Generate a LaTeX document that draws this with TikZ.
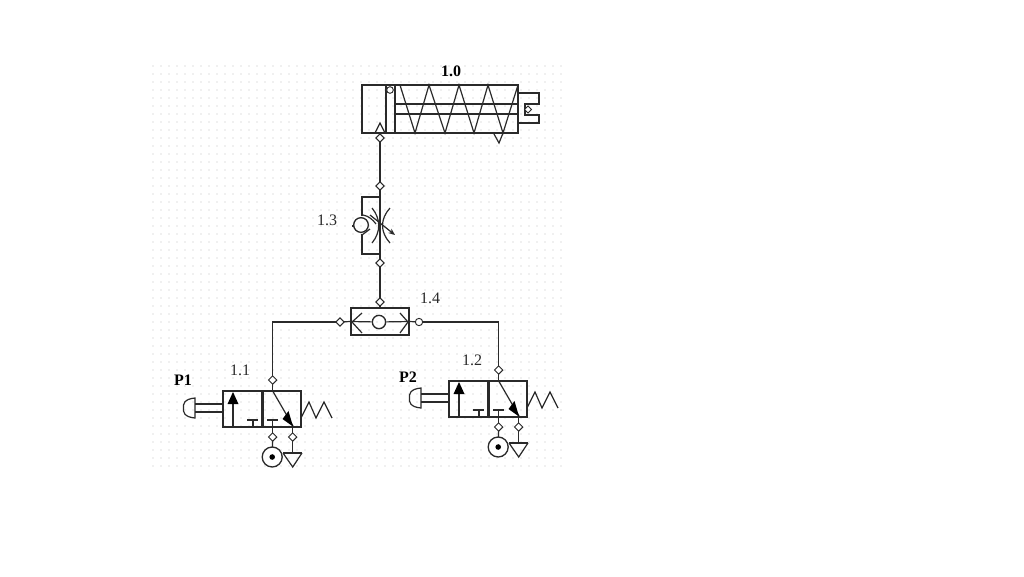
\documentclass[tikz,border=0pt]{standalone}
\usepackage{fontspec}
\setmainfont{Liberation Serif}
\usetikzlibrary{arrows.meta,shapes.geometric,backgrounds}
\definecolor{ink}{HTML}{2A2A2A}
\definecolor{dotc}{HTML}{E2E2E2}
\tikzset{
  pipe/.style={draw=ink,line width=1.2pt},
  thin/.style={draw=ink,line width=0.9pt},
  portd/.style={diamond,draw=ink,line width=0.7pt,fill=white,inner sep=0pt,minimum size=6.5pt},
  portc/.style={circle,draw=ink,line width=0.7pt,fill=white,inner sep=0pt,minimum size=5.5pt},
  lab/.style={font=\fontsize{12}{14}\selectfont,text=ink,inner sep=0pt},
  labb/.style={font=\fontsize{12}{14}\selectfont\bfseries,text=black,inner sep=0pt},
}
\newcommand{\valveunit}[3]{%
\begin{scope}[shift={(#2,#3)}]
  \node[portd] (#1top) at (272.7,380) {};
  \node[portd] (#1pp) at (272.7,437) {};
  \node[portd] (#1ex) at (292.7,437) {};
  \node[circle,draw=ink,line width=1pt,minimum size=15pt,inner sep=0pt,fill=white] (#1src) at (272.2,457) {};
  \fill[black] (#1src.center) circle (2.8);
  \draw[thin] (223,391) rectangle (301,427);
  \draw[pipe] (262,391) -- (262,427);
  \draw[thin] (263.5,391) -- (263.5,427);
  \draw[pipe] (301,391) -- (301,423);
  % left cell
  \draw[thin] (233,427) -- (233,400);
  \fill[black] (227.5,404) -- (233,392) -- (238.5,404) -- cycle;
  \draw[thin] (253,420) -- (253,427) (247,420) -- (258,420);
  % right cell
  \draw[thin] (272.7,391) -- (293,426);
  \fill[black] (293,426.5) -- (282.5,419) -- (288.5,411) -- cycle;
  \draw[thin] (272.7,420) -- (272.7,427) (267,420) -- (278,420);
  \begin{pgfonlayer}{background}
    \draw[thin] (#1top.center) -- (272.7,391);
    \draw[thin] (272.7,427) -- (#1pp.center);
    \draw[thin] (#1pp.center) -- (#1src.center);
    \draw[thin] (292.7,427) -- (#1ex.center);
    \draw[thin] (#1ex.center) -- (292.7,453);
  \end{pgfonlayer}
  % exhaust
  \draw[thin] (283,453) -- (292.7,467) -- (302,453);
  \draw[pipe,line width=1.4pt] (283,453) -- (302,453);
  % plunger
  \draw[pipe] (195,404) -- (223,404) (195,412) -- (223,412);
  \draw[thin] (195,398) .. controls (184,399) and (183,404) .. (183.5,408) .. controls (183,412) and (184,417) .. (195,418) -- cycle;
  % spring
  \draw[thin] (301,418) -- (309,402) -- (316,418) -- (324,402) -- (332,418);
\end{scope}}
\begin{document}
\begin{tikzpicture}[x=0.75pt,y=-0.75pt]
\useasboundingbox (0,0) rectangle (1024,576);
\begin{pgfonlayer}{background}
\fill[white] (0,0) rectangle (1024,576);
% dotted panel
\foreach \r in {0,...,50}{
  \pgfmathsetmacro{\yy}{66+8*\r}
  \foreach \c in {0,...,51}{
    \fill[dotc] ({153+8*\c},\yy) circle (0.8);
  }
}
\end{pgfonlayer}
% cylinder
\draw[pipe] (362,85) rectangle (518,133);
\draw[pipe] (386,85) -- (386,133);
\draw[pipe] (395,85) -- (395,133);
\draw[pipe] (395,104) -- (518,104) (395,114) -- (518,114);
\draw[thin] (400,85) -- (415,133) -- (429,85) -- (445,133) -- (459,85) -- (474,133) -- (488,85) -- (503,133) -- (518,85);
\draw[thin] (494,134) -- (499,143) -- (503,133);
\draw[thin] (518,93) -- (539,93) -- (539,104) -- (525,104) -- (525,115) -- (539,115) -- (539,123) -- (518,123);
\node[portc,minimum size=5pt] (cylvent) at (390,90) {};
\node[portd,minimum size=5.5pt] (rodport) at (528,109.5) {};
\draw[thin] (375,133) -- (380,123) -- (385,133);
\node[portd] (cylin) at (380,138) {};
% flow control
\node[portd] (fcA) at (380,186) {};
\node[portd] (fcB) at (380,263) {};
\begin{pgfonlayer}{background}
\draw[pipe] (fcA.center) -- (fcB.center);
\end{pgfonlayer}
\draw[thin] (380,197) -- (362,197) -- (362,216);
\draw[thin] (362,234) -- (362,254) -- (380,254);
\node[circle,draw=ink,line width=1pt,minimum size=11pt,inner sep=0pt] (chk) at (361,225) {};
\draw[thin] (352,226) -- (354,226);
\draw[thin] (363,215) .. controls (369,216) and (373,220) .. (376,224);
\draw[thin] (370,229) -- (362,235);
\draw[thin] (372,208) .. controls (381,219) and (381,232) .. (372,243);
\draw[thin] (390,208) .. controls (380,219) and (380,232) .. (390,243);
\draw[thin,-{Stealth[length=5pt,width=4pt]}] (370,215) -- (395,235);
% shuttle
\node[draw=ink,line width=1pt,minimum width=43.5pt,minimum height=20.25pt,inner sep=0pt,fill=none] (sh) at (380,321.5) {};
\node[portd] (shtop) at (380,302) {};
\node[portd] (shL) at (340,322) {};
\node[portc] (shR) at (419,322) {};
\node[circle,draw=ink,line width=1pt,minimum size=10pt,inner sep=0pt] (ball) at (379,322) {};
\draw[thin] (sh.west) -- (ball) (ball) -- (sh.east);
\draw[thin] (362,313) -- (352,322) -- (362,333);
\draw[thin] (400,313) -- (408,322) -- (400,333);
\begin{pgfonlayer}{background}
\draw[pipe] (fcB.center) -- (shtop.center);
\draw[pipe] (shtop.center) -- (sh.north);
\draw[pipe] (cylin.center) -- (fcA.center);
\draw[thin] (shL.center) -- (sh.west);
\draw[thin] (shR.center) -- (sh.east);
\end{pgfonlayer}
% valves
\valveunit{a}{0}{0}
\valveunit{b}{226}{-10}
\begin{pgfonlayer}{background}
\draw[thin] (shL.center) -- (atop.center |- shL.center) -- (atop.center);
\draw[thin] (shR.center) -- (btop.center |- shR.center) -- (btop.center);
\end{pgfonlayer}
% labels
\node[labb] (l0) at (451,71) {1.0};
\node[lab] (l3) at (327,220) {1.3};
\node[lab] (l4) at (430,298) {1.4};
\node[lab] (l1) at (240,370) {1.1};
\node[lab] (l2) at (472,360) {1.2};
\node[labb] (p1) at (183,380) {P1};
\node[labb] (p2) at (408,377) {P2};
\end{tikzpicture}
\end{document}
